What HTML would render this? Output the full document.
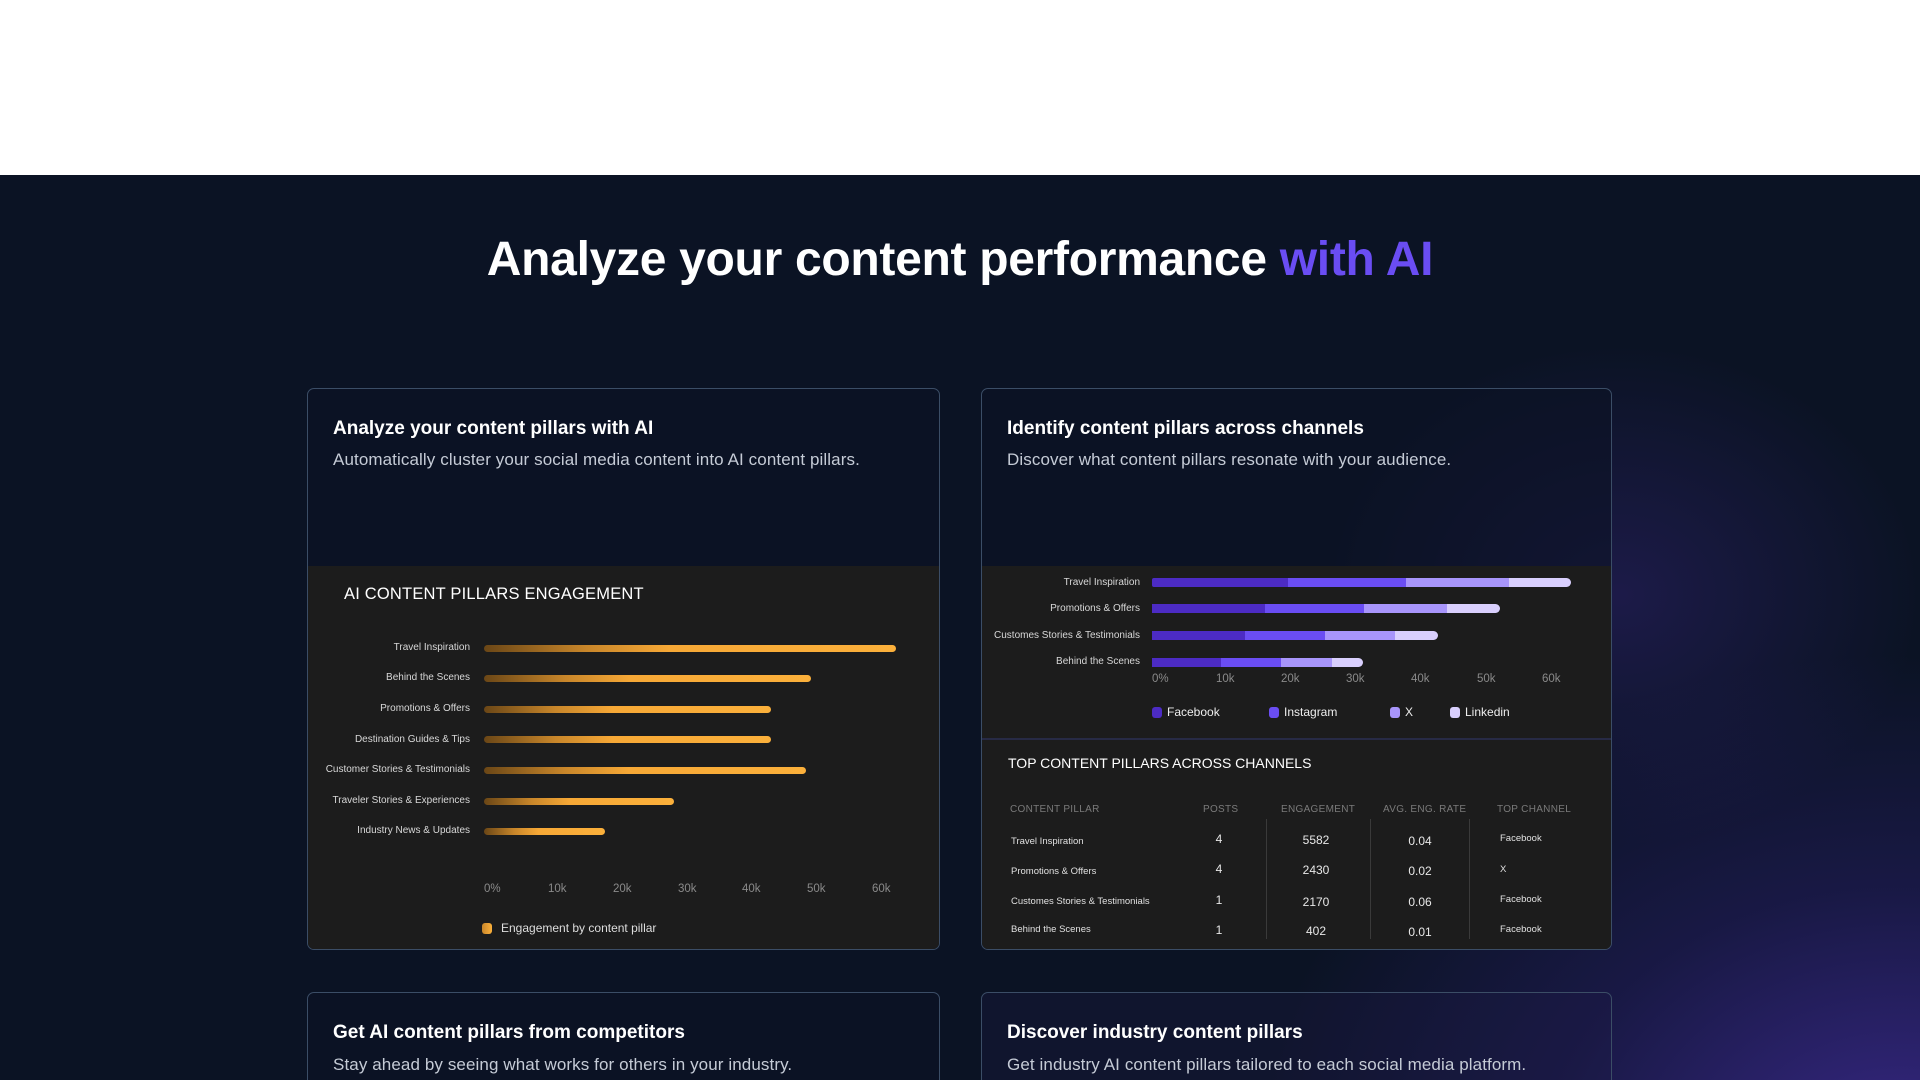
<!DOCTYPE html>
<html><head><meta charset="utf-8"><style>
*{margin:0;padding:0;box-sizing:border-box}
html,body{width:1920px;height:1080px;overflow:hidden}
body{font-family:"Liberation Sans",sans-serif;background:#fff;position:relative}
.dark{position:absolute;left:0;top:175px;width:1920px;height:905px;background:
radial-gradient(ellipse 650px 520px at 1900px 1000px,rgba(72,48,170,0.75),rgba(50,35,130,0.35) 55%,rgba(12,20,37,0) 100%),
radial-gradient(ellipse 300px 250px at 1620px 420px,rgba(60,40,140,0.35),rgba(12,20,37,0) 100%),#0b1324}
.a{position:absolute;white-space:nowrap}
h1{position:absolute;left:0;width:1920px;top:232px;text-align:center;color:#fff;font-size:48px;font-weight:bold;letter-spacing:-0.3px}
h1 span{color:#6a4df3}
.card{position:absolute;border:1.5px solid #3b4d66;border-radius:7px;overflow:hidden;background:rgba(11,19,36,0.6)}
.ct{position:absolute;left:25px;top:29px;color:#fff;font-size:19px;font-weight:bold}
.cs{position:absolute;left:25px;top:61px;color:#c5cbd6;font-size:17px;letter-spacing:0.1px}
.panel{position:absolute;left:0;right:0;background:#1c1c1c}
.lbl{position:absolute;color:#d8d8d8;font-size:10px;text-align:right;width:200px}
.bar{position:absolute;height:7px;border-radius:4px;background:linear-gradient(90deg,#6a4616 0%,#c8862a 25%,#f6a836 45%,#fbb03b 100%)}
.tick{position:absolute;color:#8a8a8a;font-size:11.5px}
.seg{position:absolute;height:9px}
.th{position:absolute;color:#7a7a7a;font-size:10px;letter-spacing:.3px}
.td{position:absolute;color:#e0e0e0;font-size:9.5px}
.tn{position:absolute;color:#e8e8e8;font-size:12px;text-align:center;width:80px}
.vl{position:absolute;width:1px;background:#3a3a3a;top:430px;height:120px}
</style></head><body>
<div class="dark"></div>
<h1>Analyze your content performance <span>with AI</span></h1>

<div class="card" style="left:307px;top:388px;width:633px;height:562px">
<div class="ct">Analyze your content pillars with AI</div>
<div class="cs">Automatically cluster your social media content into AI content pillars.</div>
<div class="panel" style="top:177px;bottom:0">
<div class="a" style="left:36px;top:19px;color:#fff;font-size:16.5px;letter-spacing:0.2px">AI CONTENT PILLARS ENGAGEMENT</div>
</div>
</div>
<div class="lbl" style="left:270px;top:642px">Travel Inspiration</div>
<div class="lbl" style="left:270px;top:672px">Behind the Scenes</div>
<div class="lbl" style="left:270px;top:703px">Promotions &amp; Offers</div>
<div class="lbl" style="left:270px;top:734px">Destination Guides &amp; Tips</div>
<div class="lbl" style="left:270px;top:764px">Customer Stories &amp; Testimonials</div>
<div class="lbl" style="left:270px;top:795px">Traveler Stories &amp; Experiences</div>
<div class="lbl" style="left:270px;top:825px">Industry News &amp; Updates</div>
<div class="bar" style="left:484px;top:645px;width:412px"></div>
<div class="bar" style="left:484px;top:675px;width:327px"></div>
<div class="bar" style="left:484px;top:706px;width:287px"></div>
<div class="bar" style="left:484px;top:736px;width:287px"></div>
<div class="bar" style="left:484px;top:767px;width:322px"></div>
<div class="bar" style="left:484px;top:798px;width:190px"></div>
<div class="bar" style="left:484px;top:828px;width:121px"></div>
<div class="tick" style="left:484px;top:883px">0%</div>
<div class="tick" style="left:548px;top:883px">10k</div>
<div class="tick" style="left:613px;top:883px">20k</div>
<div class="tick" style="left:678px;top:883px">30k</div>
<div class="tick" style="left:742px;top:883px">40k</div>
<div class="tick" style="left:807px;top:883px">50k</div>
<div class="tick" style="left:872px;top:883px">60k</div>
<div class="a" style="left:482px;top:923px;width:10px;height:11px;border-radius:3px;background:linear-gradient(90deg,#c8862a,#fbb03b)"></div>
<div class="a" style="left:501px;top:921px;color:#ddd;font-size:12px">Engagement by content pillar</div>

<div class="card" style="left:981px;top:388px;width:631px;height:562px">
<div class="ct">Identify content pillars across channels</div>
<div class="cs">Discover what content pillars resonate with your audience.</div>
<div class="panel" style="top:177px;height:172px"></div>
<div class="a" style="left:0;right:0;top:349px;height:2px;background:#272a45"></div>
<div class="panel" style="top:351px;bottom:0">
<div class="a" style="left:26px;top:15px;color:#fff;font-size:14px">TOP CONTENT PILLARS ACROSS CHANNELS</div>
</div>
<div class="vl" style="left:284px"></div>
<div class="vl" style="left:388px"></div>
<div class="vl" style="left:487px"></div>
</div>
<div class="lbl" style="left:940px;top:577px">Travel Inspiration</div>
<div class="lbl" style="left:940px;top:603px">Promotions &amp; Offers</div>
<div class="lbl" style="left:940px;top:630px">Customes Stories &amp; Testimonials</div>
<div class="lbl" style="left:940px;top:656px">Behind the Scenes</div>
<div class="seg" style="left:1152px;top:578px;width:136px;background:#4c2bc4;border-radius:2px 0 0 2px"></div>
<div class="seg" style="left:1288px;top:578px;width:118px;background:#6a4df3"></div>
<div class="seg" style="left:1406px;top:578px;width:103px;background:#a895fb"></div>
<div class="seg" style="left:1509px;top:578px;width:62px;background:#d9cffd;border-radius:0 5px 5px 0"></div>
<div class="seg" style="left:1152px;top:604px;width:113px;background:#4c2bc4"></div>
<div class="seg" style="left:1265px;top:604px;width:99px;background:#6a4df3"></div>
<div class="seg" style="left:1364px;top:604px;width:83px;background:#a895fb"></div>
<div class="seg" style="left:1447px;top:604px;width:53px;background:#d9cffd;border-radius:0 5px 5px 0"></div>
<div class="seg" style="left:1152px;top:631px;width:93px;background:#4c2bc4"></div>
<div class="seg" style="left:1245px;top:631px;width:80px;background:#6a4df3"></div>
<div class="seg" style="left:1325px;top:631px;width:70px;background:#a895fb"></div>
<div class="seg" style="left:1395px;top:631px;width:43px;background:#d9cffd;border-radius:0 5px 5px 0"></div>
<div class="seg" style="left:1152px;top:658px;width:69px;background:#4c2bc4"></div>
<div class="seg" style="left:1221px;top:658px;width:60px;background:#6a4df3"></div>
<div class="seg" style="left:1281px;top:658px;width:51px;background:#a895fb"></div>
<div class="seg" style="left:1332px;top:658px;width:31px;background:#d9cffd;border-radius:0 5px 5px 0"></div>
<div class="tick" style="left:1152px;top:673px">0%</div>
<div class="tick" style="left:1216px;top:673px">10k</div>
<div class="tick" style="left:1281px;top:673px">20k</div>
<div class="tick" style="left:1346px;top:673px">30k</div>
<div class="tick" style="left:1411px;top:673px">40k</div>
<div class="tick" style="left:1477px;top:673px">50k</div>
<div class="tick" style="left:1542px;top:673px">60k</div>
<div class="a" style="left:1152px;top:707px;width:10px;height:11px;border-radius:3px;background:#4c2bc4"></div>
<div class="a" style="left:1167px;top:705px;color:#eee;font-size:12px">Facebook</div>
<div class="a" style="left:1269px;top:707px;width:10px;height:11px;border-radius:3px;background:#6a4df3"></div>
<div class="a" style="left:1284px;top:705px;color:#eee;font-size:12px">Instagram</div>
<div class="a" style="left:1390px;top:707px;width:10px;height:11px;border-radius:3px;background:#a895fb"></div>
<div class="a" style="left:1405px;top:705px;color:#eee;font-size:12px">X</div>
<div class="a" style="left:1450px;top:707px;width:10px;height:11px;border-radius:3px;background:#d9cffd"></div>
<div class="a" style="left:1465px;top:705px;color:#eee;font-size:12px">Linkedin</div>
<div class="th" style="left:1010px;top:804px">CONTENT PILLAR</div>
<div class="th" style="left:1203px;top:804px">POSTS</div>
<div class="th" style="left:1281px;top:804px">ENGAGEMENT</div>
<div class="th" style="left:1383px;top:804px">AVG. ENG. RATE</div>
<div class="th" style="left:1497px;top:804px">TOP CHANNEL</div>
<div class="td" style="left:1011px;top:836px">Travel Inspiration</div>
<div class="td" style="left:1011px;top:866px">Promotions &amp; Offers</div>
<div class="td" style="left:1011px;top:896px">Customes Stories &amp; Testimonials</div>
<div class="td" style="left:1011px;top:924px">Behind the Scenes</div>
<div class="tn" style="left:1179px;top:832px">4</div>
<div class="tn" style="left:1179px;top:862px">4</div>
<div class="tn" style="left:1179px;top:893px">1</div>
<div class="tn" style="left:1179px;top:923px">1</div>
<div class="tn" style="left:1276px;top:833px">5582</div>
<div class="tn" style="left:1276px;top:863px">2430</div>
<div class="tn" style="left:1276px;top:895px">2170</div>
<div class="tn" style="left:1276px;top:924px">402</div>
<div class="tn" style="left:1380px;top:834px">0.04</div>
<div class="tn" style="left:1380px;top:864px">0.02</div>
<div class="tn" style="left:1380px;top:895px">0.06</div>
<div class="tn" style="left:1380px;top:925px">0.01</div>
<div class="td" style="left:1500px;top:833px">Facebook</div>
<div class="td" style="left:1500px;top:864px">X</div>
<div class="td" style="left:1500px;top:894px">Facebook</div>
<div class="td" style="left:1500px;top:924px">Facebook</div>

<div class="card" style="left:307px;top:992px;width:633px;height:120px">
<div class="ct" style="top:29px">Get AI content pillars from competitors</div>
<div class="cs" style="top:62px">Stay ahead by seeing what works for others in your industry.</div>
</div>
<div class="card" style="left:981px;top:992px;width:631px;height:120px;background:rgba(30,25,70,0.3)">
<div class="ct" style="top:29px">Discover industry content pillars</div>
<div class="cs" style="top:62px">Get industry AI content pillars tailored to each social media platform.</div>
</div>
</body></html>
